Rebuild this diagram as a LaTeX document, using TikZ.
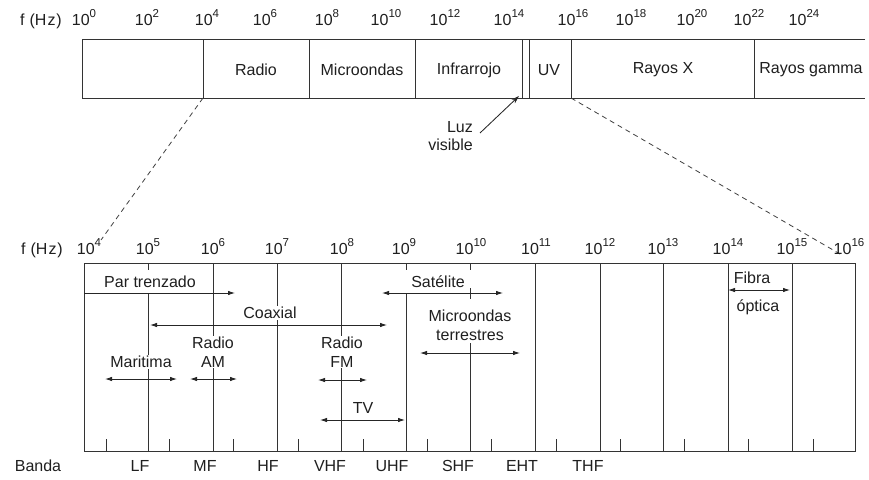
\documentclass[tikz,border=0pt]{standalone}
\usepackage{fontspec}
\setmainfont{Liberation Sans}
\usetikzlibrary{arrows.meta}
\newcommand{\pw}[1]{10\raisebox{0.45em}{\fontsize{11.5}{11.5}\selectfont #1}}
\newcommand{\fhz}{f\hspace{5pt}(H\hspace{1pt}z\hspace{1pt})}
\begin{document}
\begin{tikzpicture}[x=1pt,y=-1pt,
  lbl/.style={font=\fontsize{16}{19}\selectfont, inner sep=1pt, text=black!88},
  wlbl/.style={lbl, fill=white, align=center},
  ticklbl/.style={font=\fontsize{16}{18}\selectfont, inner sep=0pt, text=black!88, anchor=base},
  bar/.style={line width=1pt, draw=black!80},
  thin/.style={line width=0.85pt, draw=black!80},
  arr/.style={line width=0.85pt, draw=black!85, -{Latex[length=7pt,width=4.5pt]}},
  darr/.style={line width=0.85pt, draw=black!85, {Latex[length=7pt,width=4.5pt]}-{Latex[length=7pt,width=4.5pt]}},
  dashln/.style={line width=0.8pt, draw=black!75, dash pattern=on 5pt off 4pt}]
\useasboundingbox[fill=white] (0,0) rectangle (869,479);

% ---------- top bar ----------
\draw[bar] (865,39) -- (82,39) -- (82,98) -- (865,98);
\foreach \x in {203,309,415,522,529,571,754} \draw[bar] (\x,39) -- (\x,98);

\node[ticklbl] (fhz1) at (41,25) {\fhz};
\node[ticklbl] (t0) at (84,25) {\pw{0}};
\node[ticklbl] (t2) at (147,25) {\pw{2}};
\node[ticklbl] (t4) at (207,25) {\pw{4}};
\node[ticklbl] (t6) at (265,25) {\pw{6}};
\node[ticklbl] (t8) at (327,25) {\pw{8}};
\node[ticklbl] (t10) at (386,25) {\pw{10}};
\node[ticklbl] (t12) at (445,25) {\pw{12}};
\node[ticklbl] (t14) at (509,25) {\pw{14}};
\node[ticklbl] (t16) at (573,25) {\pw{16}};
\node[ticklbl] (t18) at (631,25) {\pw{18}};
\node[ticklbl] (t20) at (692,25) {\pw{20}};
\node[ticklbl] (t22) at (749,25) {\pw{22}};
\node[ticklbl] (t24) at (804,25) {\pw{24}};

\node[lbl] (radio) at (256,70) {Radio};
\node[lbl] (micro) at (362,70) {Microondas};
\node[lbl] (infra) at (469,70) {Infrarrojo};
\node[lbl] (uv) at (549,70) {UV};
\node[lbl] (rx) at (663,70) {Rayos X};
\node[lbl] (rg) at (811,70) {Rayos gamma};

% visible light
\node[lbl, align=right, anchor=east, font=\fontsize{16}{18}\selectfont] (luz) at (474,136) {Luz\\visible};
\coordinate (luzA) at (480,133);
\coordinate (luzB) at (519,96);
\draw[line width=0.85pt, draw=black!85, -{Stealth[length=8pt,width=5pt]}] (luzA) -- (luzB);

% zoom dashed lines
\coordinate (zA1) at (203,98);
\coordinate (zA2) at (101,240);
\coordinate (zB1) at (571,98);
\coordinate (zB2) at (840,254);
\draw[dashln] (zA1) -- (zA2);
\draw[dashln] (zB1) -- (zB2);

% ---------- bottom bar ----------
\node[ticklbl] (fhz2) at (42,254) {\fhz};
\node[ticklbl] (b4) at (89,254) {\pw{4}};
\node[ticklbl] (b5) at (148,254) {\pw{5}};
\node[ticklbl] (b6) at (213,254) {\pw{6}};
\node[ticklbl] (b7) at (277,254) {\pw{7}};
\node[ticklbl] (b8) at (342,254) {\pw{8}};
\node[ticklbl] (b9) at (404,254) {\pw{9}};
\node[ticklbl] (b10) at (471,254) {\pw{10}};
\node[ticklbl] (b11) at (536,254) {\pw{11}};
\node[ticklbl] (b12) at (600,254) {\pw{12}};
\node[ticklbl] (b13) at (663,254) {\pw{13}};
\node[ticklbl] (b14) at (728,254) {\pw{14}};
\node[ticklbl] (b15) at (792,254) {\pw{15}};
\node[ticklbl] (b16) at (849,254) {\pw{16}};

\draw[bar] (84,263) rectangle (855,451);
\foreach \x in {213,277,341,535,600,663,728,792} \draw[thin] (\x,263) -- (\x,451);
\foreach \x in {148,406} {\draw[thin] (\x,263) -- (\x,270); \draw[thin] (\x,293) -- (\x,451);}
\draw[thin] (470,263) -- (470,270);
\draw[thin] (470,288) -- (470,299);
\draw[thin] (470,343) -- (470,451);
\foreach \x in {106,169,233,298,363,427,491,556,620,684,748,813} \draw[thin] (\x,439) -- (\x,451);

% arrows
\draw[arr] (84,293) -- (235,293);
\draw[darr] (150,325) -- (387,325);
\draw[darr] (382,293) -- (503,293);
\draw[darr] (420,353) -- (520,353);
\draw[darr] (105,379) -- (177,379);
\draw[darr] (190,379) -- (237,379);
\draw[darr] (318,380) -- (367,380);
\draw[darr] (320,420) -- (405,420);
\draw[darr] (728,290) -- (790,290);

% labels
\node[wlbl] (par) at (150,282) {Par trenzado};
\node[wlbl] (coax) at (270,313) {Coaxial};
\node[wlbl] (sat) at (438,282) {Satélite};
\node[wlbl] (mt) at (470,325) {Microondas\\terrestres};
\node[wlbl] (ram) at (213,352) {Radio\\AM};
\node[wlbl] (rfm) at (342,352) {Radio\\FM};
\node[wlbl] (mar) at (141,362) {Maritima};
\node[wlbl] (tv) at (363,408) {TV};
\node[wlbl] (fib) at (752,278) {Fibra};
\node[wlbl] (opt) at (758,307) {óptica};

% bands
\node[ticklbl] (banda) at (38,471) {Banda};
\node[ticklbl] (lf) at (140,471) {LF};
\node[ticklbl] (mf) at (205,471) {MF};
\node[ticklbl] (hf) at (268,471) {HF};
\node[ticklbl] (vhf) at (330,471) {VHF};
\node[ticklbl] (uhf) at (392,471) {UHF};
\node[ticklbl] (shf) at (458,471) {SHF};
\node[ticklbl] (eht) at (522,471) {EHT};
\node[ticklbl] (thf) at (588,471) {THF};
\end{tikzpicture}
\end{document}
